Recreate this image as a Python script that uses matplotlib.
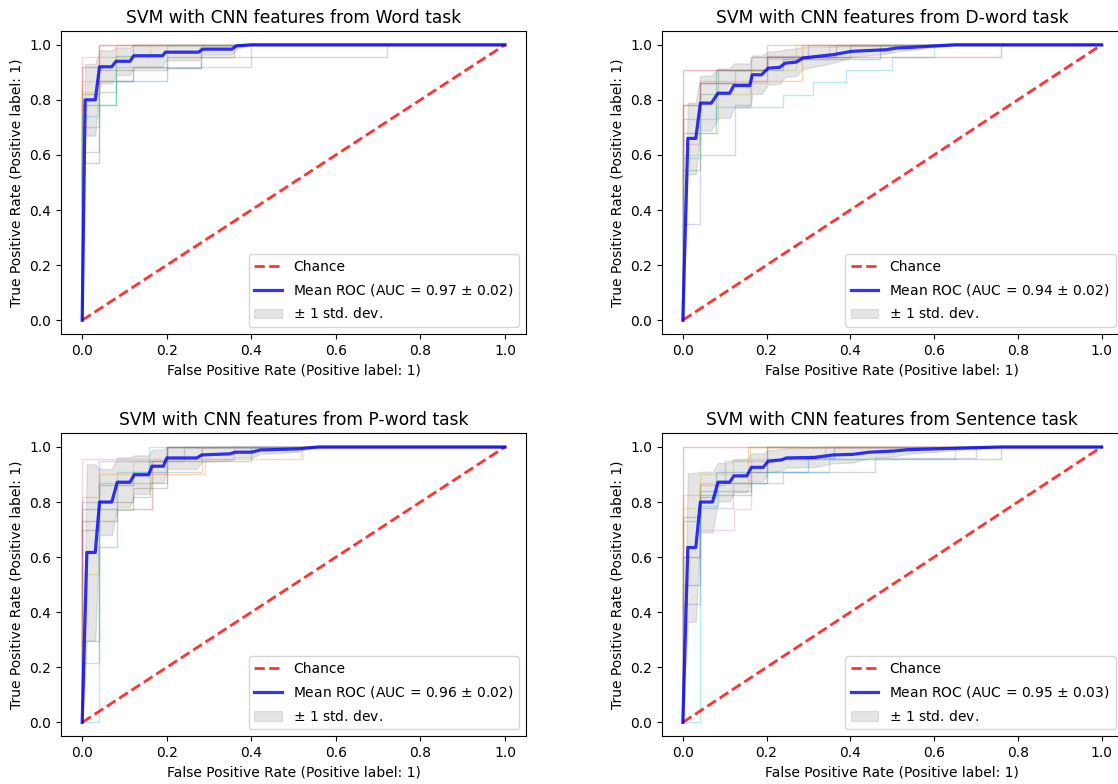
import matplotlib
matplotlib.use("Agg")
import matplotlib.pyplot as plt

# panel titles and AUC text
titles = ["SVM with CNN features from Word task",
          "SVM with CNN features from D-word task",
          "SVM with CNN features from P-word task",
          "SVM with CNN features from Sentence task"]
auc_mean = [0.97, 0.94, 0.96, 0.95]
auc_std = [0.02, 0.02, 0.02, 0.03]

# mean ROC and its std
word_fpr = [0, 0.007, 0.031, 0.041, 0.07, 0.08, 0.113, 0.122, 0.19, 0.197, 0.275, 0.285, 0.354, 0.365, 0.40, 1.0]
word_tpr = [0, 0.80, 0.80, 0.92, 0.92, 0.94, 0.94, 0.96, 0.96, 0.973, 0.973, 0.984, 0.984, 0.996, 1.0, 1.0]
word_std = [0, 0.13, 0.13, 0.06, 0.06, 0.05, 0.05, 0.04, 0.04, 0.03, 0.03, 0.02, 0.02, 0.01, 0, 0]

dword_fpr = [0, 0.012, 0.031, 0.042, 0.068, 0.084, 0.112, 0.122, 0.16, 0.166, 0.188, 0.204, 0.232, 0.244,
             0.271, 0.287, 0.359, 0.403, 0.486, 0.51, 0.54, 0.65, 1.0]
dword_tpr = [0, 0.66, 0.66, 0.788, 0.788, 0.824, 0.824, 0.852, 0.852, 0.891, 0.891, 0.915, 0.918, 0.933,
             0.937, 0.952, 0.964, 0.976, 0.982, 0.988, 0.99, 1.0, 1.0]
dword_std = [0, 0.13, 0.13, 0.1, 0.1, 0.09, 0.09, 0.08, 0.08, 0.07, 0.07, 0.06, 0.06, 0.05,
             0.05, 0.04, 0.03, 0.02, 0.015, 0.012, 0.01, 0, 0]

pword_fpr = [0, 0.011, 0.031, 0.041, 0.07, 0.083, 0.113, 0.123, 0.157, 0.165, 0.192, 0.2, 0.271, 0.283,
             0.35, 0.362, 0.401, 0.421, 0.515, 0.531, 0.56, 1.0]
pword_tpr = [0, 0.617, 0.617, 0.80, 0.80, 0.872, 0.872, 0.899, 0.899, 0.93, 0.93, 0.96, 0.96, 0.971,
             0.975, 0.981, 0.981, 0.989, 0.993, 0.996, 1.0, 1.0]
pword_std = [0, 0.32, 0.32, 0.12, 0.12, 0.09, 0.09, 0.07, 0.07, 0.06, 0.06, 0.04, 0.04, 0.025,
             0.025, 0.02, 0.02, 0.015, 0.01, 0.005, 0, 0]

sent_fpr = [0, 0.012, 0.031, 0.042, 0.071, 0.084, 0.112, 0.122, 0.153, 0.164, 0.192, 0.204, 0.236, 0.247,
            0.315, 0.359, 0.406, 0.446, 0.502, 0.538, 0.76, 1.0]
sent_tpr = [0, 0.635, 0.635, 0.80, 0.80, 0.872, 0.872, 0.895, 0.895, 0.926, 0.926, 0.948, 0.953, 0.96,
            0.962, 0.971, 0.973, 0.981, 0.985, 0.99, 1.0, 1.0]
sent_std = [0, 0.27, 0.27, 0.11, 0.11, 0.07, 0.07, 0.06, 0.06, 0.05, 0.05, 0.04, 0.04, 0.035,
            0.035, 0.03, 0.03, 0.02, 0.02, 0.015, 0, 0]

# per-fold ROC curves (step corners), 10 folds per task
word_folds_fpr = [[0, 0, 0.08, 0.2, 0.28, 1], [0, 0, 0.04, 0.08, 1], [0, 0, 0.04, 0.08, 0.12, 1],
                  [0, 0, 0.04, 1], [0, 0, 0.04, 0.12, 0.40, 0.72, 1], [0, 0, 0.04, 0.2, 0.36, 1],
                  [0, 0, 0.04, 1], [0, 0, 0.04, 0.12, 0.28, 0.4, 1], [0, 0, 0.04, 0.08, 0.16, 1],
                  [0, 0, 0.04, 0.08, 0.2, 1]]
word_folds_tpr = [[0, 0.78, 0.87, 0.917, 1, 1], [0, 0.87, 0.957, 1, 1], [0, 0.57, 0.83, 0.96, 1, 1],
                  [0, 0.92, 1, 1], [0, 0.61, 0.87, 0.92, 0.957, 1, 1], [0, 0.82, 0.91, 0.957, 1, 1],
                  [0, 0.957, 1, 1], [0, 0.7, 0.87, 0.917, 0.957, 1, 1], [0, 0.83, 0.87, 0.957, 1, 1],
                  [0, 0.74, 0.78, 0.92, 1, 1]]

dword_folds_fpr = [[0, 0, 0.08, 0.24, 0.47, 1], [0, 0, 0.04, 0.285, 1], [0, 0, 0.042, 0.084, 0.2, 0.4, 1],
                   [0, 0, 0.2, 0.76, 1], [0, 0, 0.042, 0.124, 0.163, 0.2, 0.3, 1], [0, 0, 0.042, 0.163, 0.365, 1],
                   [0, 0, 0.042, 0.2, 0.35, 1], [0, 0, 0.042, 0.124, 0.2, 1], [0, 0, 0.04, 0.084, 0.16, 0.27, 1],
                   [0, 0, 0.04, 0.08, 0.24, 0.31, 0.39, 0.5, 0.6, 1]]
dword_folds_tpr = [[0, 0.68, 0.91, 0.95, 1, 1], [0, 0.78, 0.87, 1, 1], [0, 0.545, 0.82, 0.91, 0.955, 1, 1],
                   [0, 0.91, 0.957, 1, 1], [0, 0.35, 0.6, 0.78, 0.87, 0.96, 1, 1], [0, 0.78, 0.86, 0.955, 1, 1],
                   [0, 0.64, 0.86, 0.95, 1, 1], [0, 0.73, 0.86, 0.91, 1, 1], [0, 0.6, 0.68, 0.82, 0.91, 1, 1],
                   [0, 0.59, 0.73, 0.773, 0.818, 0.864, 0.909, 0.955, 1, 1]]

pword_folds_fpr = [[0, 0, 0.083, 0.12, 0.2, 1], [0, 0, 0.04, 0.29, 0.52, 1],
                   [0, 0, 0.04, 0.083, 0.12, 0.16, 0.4, 1], [0, 0, 0.083, 0.165, 0.2, 1],
                   [0, 0, 0.04, 0.24, 1], [0, 0, 0.04, 0.12, 0.2, 1], [0, 0, 0.36, 1],
                   [0, 0, 0.04, 0.2, 0.283, 1], [0, 0, 0.04, 0.12, 0.28, 1], [0, 0.04, 0.083, 0.157, 1]]
pword_folds_tpr = [[0, 0.776, 0.86, 0.91, 1, 1], [0, 0.82, 0.9, 0.955, 1, 1],
                   [0, 0.296, 0.635, 0.77, 0.82, 0.95, 1, 1], [0, 0.73, 0.776, 0.95, 1, 1],
                   [0, 0.8, 0.95, 1, 1], [0, 0.7, 0.8, 0.85, 1, 1], [0, 0.955, 1, 1],
                   [0, 0.215, 0.87, 0.908, 1, 1], [0, 0.54, 0.86, 0.95, 1, 1], [0, 0.86, 0.91, 1, 1]]

sent_folds_fpr = [[0, 0, 0.04, 0.08, 0.3, 0.36, 1], [0, 0, 0.042, 0.156, 1], [0, 0, 0.042, 0.164, 0.2, 0.76, 1],
                  [0, 0, 1], [0, 0, 0.042, 0.12, 0.24, 0.46, 0.7, 1], [0, 0, 0.042, 0.164, 0.2, 1],
                  [0, 0, 0.042, 0.122, 0.164, 0.34, 1], [0, 0, 0.042, 0.1, 0.2, 1], [0, 0, 0.04, 0.12, 0.16, 1],
                  [0, 0.042, 0.084, 0.2, 0.35, 0.65, 1]]
sent_folds_tpr = [[0, 0.5, 0.82, 0.91, 0.96, 1, 1], [0, 0.825, 0.87, 1, 1], [0, 0.6, 0.84, 0.87, 0.955, 1, 1],
                  [0, 1, 1], [0, 0.43, 0.78, 0.87, 0.91, 0.96, 1, 1], [0, 0.745, 0.825, 0.91, 1, 1],
                  [0, 0.6, 0.7, 0.775, 0.955, 1, 1], [0, 0.73, 0.86, 0.95, 1, 1], [0, 0.78, 0.9, 0.955, 1, 1],
                  [0, 0.785, 0.87, 0.91, 0.955, 1, 1]]

panels = [(word_fpr, word_tpr, word_std, word_folds_fpr, word_folds_tpr),
          (dword_fpr, dword_tpr, dword_std, dword_folds_fpr, dword_folds_tpr),
          (pword_fpr, pword_tpr, pword_std, pword_folds_fpr, pword_folds_tpr),
          (sent_fpr, sent_tpr, sent_std, sent_folds_fpr, sent_folds_tpr)]

# axes boxes in figure fractions [left, bottom, width, height]
boxes = [[0.0546, 0.574, 0.416, 0.3865],
         [0.592, 0.574, 0.412, 0.3865],
         [0.0546, 0.061, 0.416, 0.3865],
         [0.592, 0.061, 0.412, 0.3865]]

fig = plt.figure(figsize=(11.18, 7.84), dpi=100)
colors = plt.rcParams["axes.prop_cycle"].by_key()["color"]

for i, (mfpr, mtpr, mstd, ffpr, ftpr) in enumerate(panels):
    ax = fig.add_axes(boxes[i])
    for k in range(len(ffpr)):
        ax.step(ffpr[k], ftpr[k], where="post", color=colors[k % 10], lw=1, alpha=0.3)
    ax.plot([0, 1], [0, 1], linestyle="--", lw=2, color="r", label="Chance", alpha=0.8)
    ax.plot(mfpr, mtpr, color="b", lw=2.3, alpha=0.8,
            label=r"Mean ROC (AUC = %0.2f $\pm$ %0.2f)" % (auc_mean[i], auc_std[i]))
    upper = [min(t + s, 1) for t, s in zip(mtpr, mstd)]
    lower = [max(t - s, 0) for t, s in zip(mtpr, mstd)]
    ax.fill_between(mfpr, lower, upper, color="grey", alpha=0.2, label=r"$\pm$ 1 std. dev.")
    ax.set_xlim(-0.05, 1.05)
    ax.set_ylim(-0.05, 1.05)
    ax.set_title(titles[i], fontsize=12.3)
    ax.set_xlabel("False Positive Rate (Positive label: 1)", fontsize=10)
    ax.set_ylabel("True Positive Rate (Positive label: 1)", fontsize=10)
    ax.tick_params(labelsize=10)
    ax.legend(loc="lower right", fontsize=10, labelspacing=0.6)

fig.savefig("out.png", dpi=100)
